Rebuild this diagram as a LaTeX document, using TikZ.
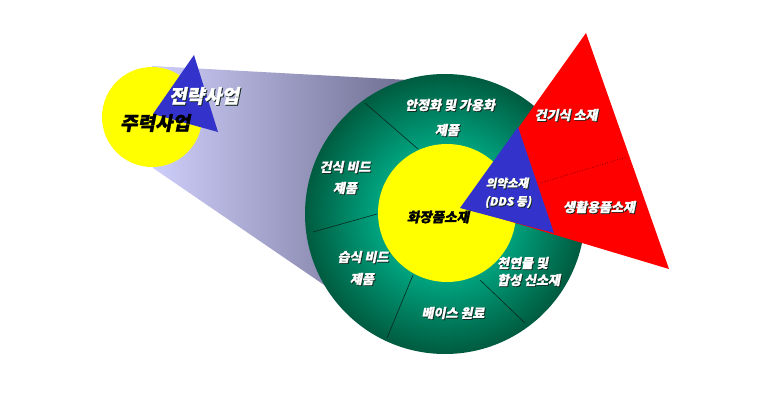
\documentclass[tikz,border=0pt]{standalone}
\usepackage{fontspec}
\newfontfamily\kr{Noto Sans CJK KR}[FakeSlant=0.2, BoldFeatures={FakeBold=1.2}]
\usetikzlibrary{calc}
\definecolor{ryellow}{RGB}{255,255,0}
\definecolor{rblue}{RGB}{51,51,204}
\definecolor{rred}{RGB}{255,0,0}
\definecolor{shadowc}{RGB}{20,40,30}
\definecolor{lavL}{RGB}{206,206,250}
\definecolor{lavR}{RGB}{96,96,130}
\definecolor{ringlight}{RGB}{0,162,126}
\definecolor{ringdark}{RGB}{0,92,64}
\tikzset{
  lbl/.style={text=white, inner sep=0pt, font=\kr\bfseries\fontsize{13}{15}\selectfont},
  shd/.style={text=shadowc, inner sep=0pt, font=\kr\bfseries\fontsize{13}{15}\selectfont},
  blk/.style={text=black, inner sep=0pt, font=\kr\bfseries\fontsize{13.5}{15}\selectfont},
  divider/.style={draw={rgb,255:red,10;green,40;blue,30}, line width=0.6pt},
}
\newcommand\wlab[4][]{%
  \node[shd,#1] at ($(#3)+(0.9,0.9)$) {#4};
  \node[lbl,#1] (#2) at (#3) {#4};}
\begin{document}
\begin{tikzpicture}[x=1pt,y=-1pt]
\useasboundingbox (0,0) rectangle (773,404);
% connecting band
\shade[left color=lavL, right color=lavR]
  (152,66) -- (445,82) -- (445,214) -- (330,289) -- (153,168) -- cycle;
% left circle and strategic triangle
\fill[ryellow] (152,117) circle[radius=50pt];
\fill[rblue] (194,55) -- (218,132) -- (153,114) -- cycle;
\node[blk, font=\kr\bfseries\fontsize{19}{21}\selectfont] (main) at (155,123) {주력사업};
\wlab[font=\kr\bfseries\fontsize{19}{21}\selectfont]{strat}{204,96}{전략사업}
% ring (manual radial gradient)
\foreach \r in {140,139,...,68} {
  \pgfmathsetmacro\t{max(0,min(100,(\r-70)/70*100))}
  \fill[ringdark!\t!ringlight] (445,214) circle[radius=\r pt];
}
\fill[ryellow] (447,213) circle[radius=69pt];
% ring dividers
\draw[divider] (418,149) -- (365,103);
\draw[divider] (377,214) -- (313,232);
\draw[divider] (413,275) -- (387,338);
\draw[divider] (480,280) -- (525,323);
% red and blue triangles
\fill[rred] (586,33) -- (669,269) -- (462,207) -- cycle;
\draw[dotted, line width=0.6pt, draw={rgb,255:red,60;green,0;blue,0}] (540,183) -- (627,157);
\fill[rblue] (460,208) -- (518,127) -- (554,233) -- cycle;
% labels
\wlab{a1}{450,105}{안정화 및 가용화}
\wlab{a2}{447,130}{제품}
\wlab{b1}{345,167}{건식 비드}
\wlab{b2}{345,188}{제품}
\wlab{c1}{363,257}{습식 비드}
\wlab{c2}{362,279}{제품}
\wlab{d1}{453,313}{베이스 원료}
\wlab[anchor=west]{e1}{497,263}{천연물 및}
\wlab[anchor=west]{e2}{497,280}{합성 신소재}
\node[blk] (core) at (438,217) {화장품소재};
\wlab[font=\kr\bfseries\fontsize{11.5}{13}\selectfont]{f1}{507,183}{의약소재}
\wlab[font=\kr\bfseries\fontsize{11.5}{13}\selectfont]{f2}{508,202}{(DDS 등)}
\wlab{g1}{566,115}{건기식 소재}
\wlab{g2}{599,207}{생활용품소재}
\end{tikzpicture}
\end{document}
